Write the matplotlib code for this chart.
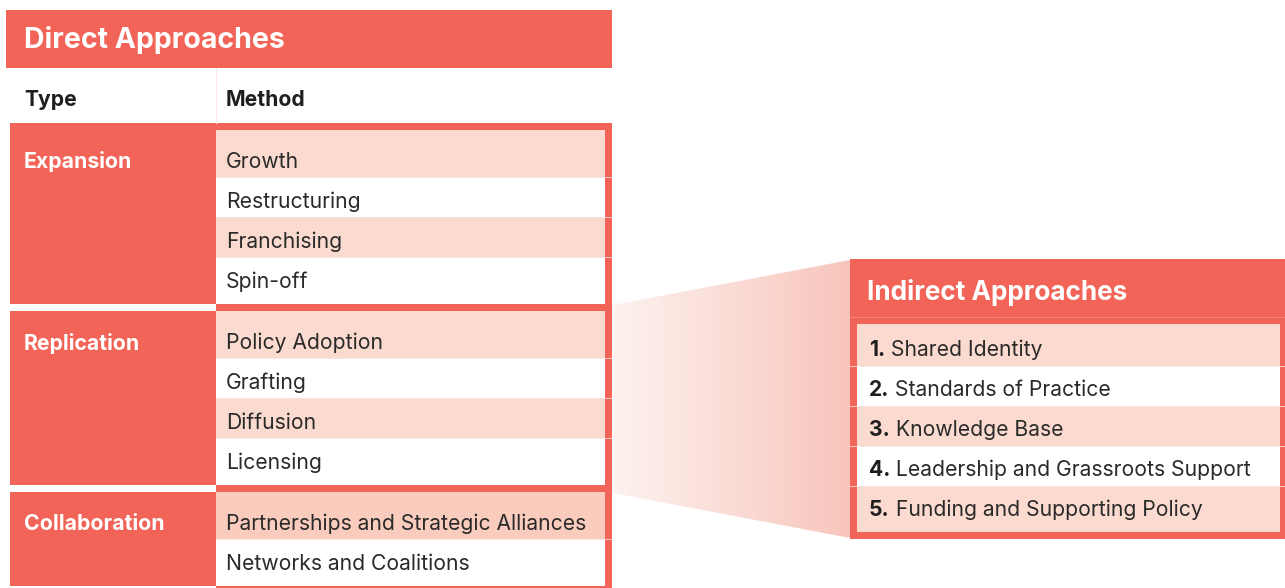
import numpy as np
import matplotlib.pyplot as plt
from matplotlib.patches import Rectangle, Polygon
from matplotlib.colors import to_rgb

plt.rcParams['font.family'] = ['Inter', 'DejaVu Sans']

# table content
types = ['Expansion', 'Replication', 'Collaboration']
methods = [
    ['Growth', 'Restructuring', 'Franchising', 'Spin-off'],
    ['Policy Adoption', 'Grafting', 'Diffusion', 'Licensing'],
    ['Partnerships and Strategic Alliances', 'Networks and Coalitions'],
]
indirect = ['Shared Identity', 'Standards of Practice', 'Knowledge Base',
            'Leadership and Grassroots Support', 'Funding and Supporting Policy']

RED = '#F26457'
PEACH = '#FBDBCF'
PEACH2 = '#F9CCBE'
TXT = '#2a2a2a'
SEP = '#F6E1DA'

W, H = 1285, 588
fig = plt.figure(figsize=(12.85, 5.88), dpi=100)
ax = fig.add_axes([0, 0, 1, 1])
ax.set_xlim(0, W)
ax.set_ylim(H, 0)
ax.axis('off')

# ---- direct approaches ----
ax.add_patch(Rectangle((6, 10), 606, 58, color=RED, lw=0))
ax.text(24, 40, 'Direct Approaches', color='white', fontsize=20.5, fontweight='bold', va='center')
ax.plot([216, 216], [68, 123], color='#FBE7E2', lw=0.8)
ax.text(24, 100, 'Type', color='#1e1e1e', fontsize=15.2, fontweight='bold', va='center')
ax.text(226, 100, 'Method', color='#1e1e1e', fontsize=15.2, fontweight='bold', va='center')

# method column frame
ax.add_patch(Rectangle((216, 123), 396, H - 123, color=RED, lw=0))

g = 123
for k, (t, rows) in enumerate(zip(types, methods)):
    cell_top = g + 7
    n = len(rows)
    bottom = cell_top + 14 + 40 * n
    # type block
    btop = g if k == 0 else cell_top
    ax.add_patch(Rectangle((10, btop), 206, bottom - btop, color=RED, lw=0))
    ax.text(24, g + 39, t, color='white', fontsize=15.3, fontweight='bold', va='center')
    edges = [cell_top] + [cell_top + 47 + 40 * i for i in range(n - 1)] + [bottom]
    for i, m in enumerate(rows):
        if i % 2 == 0:
            fc = PEACH2 if k == 2 else PEACH
        else:
            fc = 'white'
        ax.add_patch(Rectangle((216, edges[i]), 389, edges[i + 1] - edges[i], color=fc, lw=0))
        if i > 0:
            ax.plot([216, 612], [edges[i], edges[i]], color=SEP, lw=0.6)
        ax.text(226, g + 39 + 40 * i, m, color=TXT, fontsize=15.2, va='center')
    g = bottom

# ---- connector wedge with gradient ----
wedge = Polygon([(613, 305), (850, 260), (850, 538), (613, 493)], closed=True,
                facecolor='none', edgecolor='none')
ax.add_patch(wedge)
c0, c1 = np.array(to_rgb('#FDF2EF')), np.array(to_rgb('#F8C5BC'))
grad = np.linspace(0, 1, 256)[None, :, None]
img = c0 + (c1 - c0) * grad
im = ax.imshow(img, extent=(613, 850, 538, 260), aspect='auto', zorder=1)
im.set_clip_path(wedge)

# ---- indirect approaches ----
ax.add_patch(Rectangle((850, 259), 435, 280, color=RED, lw=0, zorder=2))
ax.text(867, 292, 'Indirect Approaches', color='white', fontsize=18.8, fontweight='bold',
        va='center', zorder=3)
ax.plot([850, W], [317, 317], color='#F58A7E', lw=0.6, zorder=3)
iedges = [324] + [366 + 40 * i for i in range(len(indirect) - 1)] + [532]
for i, s in enumerate(indirect):
    fc = PEACH if i % 2 == 0 else 'white'
    ax.add_patch(Rectangle((857, iedges[i]), 423, iedges[i + 1] - iedges[i], color=fc,
                           lw=0, zorder=2))
    if i > 0:
        ax.plot([850, W], [iedges[i], iedges[i]], color=SEP, lw=0.6, zorder=3)
    y = 350 + 40 * i
    num = ax.text(869, y, f'{i + 1}.', color='#1e1e1e', fontsize=15.2, fontweight='bold',
                  va='center', zorder=3)
    ax.annotate(' ' + s, xycoords=num, xy=(1, 0.5), va='center', color=TXT,
                fontsize=15.2, zorder=3)

fig.savefig('out.png', dpi=100, facecolor='white')
